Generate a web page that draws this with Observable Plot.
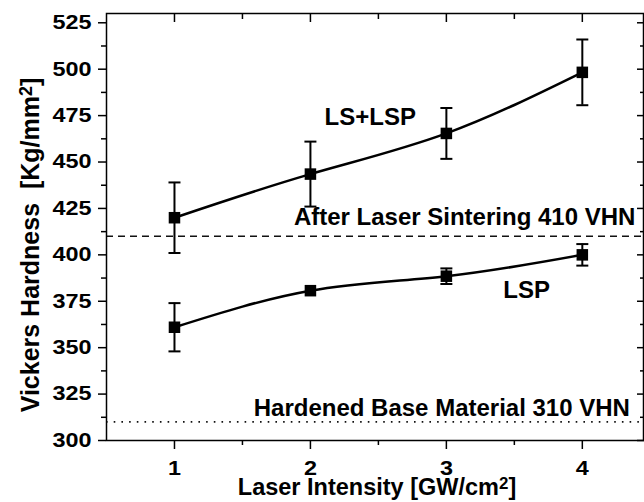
<!DOCTYPE html>
<html><head><meta charset="utf-8">
<script src="https://cdn.jsdelivr.net/npm/d3@7"></script>
<script src="https://cdn.jsdelivr.net/npm/@observablehq/plot@0.6"></script>
<style>
html,body{margin:0;padding:0;background:#fff;overflow:hidden}
</style></head><body><div id="chart"></div>
<script>
// ---- data ----
const intensity = [1, 2, 3, 4];
const lsLspHardness = [420, 443.5, 465.4, 498.3];
const lsLspError = [19, 17.5, 13.7, 17.7];
const lspHardness = [361, 380.7, 388.5, 400];
const lspError = [13, 0, 4.2, 5.8];
const xTicks = [1, 2, 3, 4];
const xMinorTicks = [1.5, 2.5, 3.5];
const yTicks = [300, 325, 350, 375, 400, 425, 450, 475, 500, 525];
const yMinorTicks = [312.5, 337.5, 362.5, 387.5, 412.5, 437.5, 462.5, 487.5, 512.5];
const sinteredLevel = 410;
const baseLevel = 310;
const xLabel = "Laser Intensity [GW/cm²]";
const yLabel = "Vickers Hardness  [Kg/mm²]";
const seriesLabels = ["LS+LSP", "LSP"];
const seriesLabelX = [2.44, 3.59];
const seriesLabelY = [474, 381];
const levelLabels = ["After Laser Sintering 410 VHN", "Hardened Base Material 310 VHN"];
const levelLabelX = [4.39, 4.35];
const levelLabelY = [420, 317.2];

// ---- tables built from the arrays ----
const series = [
  ...intensity.map((x, i) => ({x, y: lsLspHardness[i], e: lsLspError[i], s: "LS+LSP"})),
  ...intensity.map((x, i) => ({x, y: lspHardness[i], e: lspError[i], s: "LSP"}))
];
const errs = series.filter(d => d.e > 0);
const seriesAnn = seriesLabels.map((t, i) => ({t, x: seriesLabelX[i], y: seriesLabelY[i]}));
const levelAnn = levelLabels.map((t, i) => ({t, x: levelLabelX[i], y: levelLabelY[i]}));

const hline = {draw(ctx, size) { const r = Math.sqrt(size / Math.PI); ctx.moveTo(-r, 0); ctx.lineTo(r, 0); }};
const FONT = "'Liberation Sans', Arial, Helvetica, sans-serif";
const blank = () => "";
const plain = d => String(d);

const chart = Plot.plot({
  width: 644,
  height: 502,
  marginLeft: 106,
  marginRight: 1,
  marginTop: 13,
  marginBottom: 62,
  style: {fontFamily: FONT, fontWeight: "bold", fontSize: "20px", color: "#000", background: "#fff"},
  x: {domain: [0.5, 4.45]},
  y: {domain: [300, 530]},
  marks: [
    Plot.ruleY([sinteredLevel], {stroke: "#111", strokeWidth: 1.5, strokeDasharray: "7,5"}),
    Plot.ruleY([baseLevel], {stroke: "#111", strokeWidth: 1.8, strokeDasharray: "1.6,6.1"}),
    Plot.frame({stroke: "#000", strokeWidth: 1.5}),
    // left axis
    Plot.axisY(yTicks, {anchor: "left", tickSize: 8, tickPadding: 7, strokeWidth: 1.5, tickFormat: plain, label: null, fontSize: 20}),
    Plot.axisY(yMinorTicks, {anchor: "left", tickSize: 5, strokeWidth: 1.5, tickFormat: blank, label: null}),
    // right axis (inward)
    Plot.axisY(yTicks, {anchor: "right", tickSize: 7, dx: -7, strokeWidth: 1.5, tickFormat: blank, label: null}),
    Plot.axisY(yMinorTicks, {anchor: "right", tickSize: 4, dx: -4, strokeWidth: 1.5, tickFormat: blank, label: null}),
    // bottom axis
    Plot.axisX(xTicks, {anchor: "bottom", tickSize: 9, tickPadding: 11, strokeWidth: 1.5, tickFormat: plain, label: null, fontSize: 20}),
    Plot.axisX(xMinorTicks, {anchor: "bottom", tickSize: 5, strokeWidth: 1.5, tickFormat: blank, label: null}),
    // top axis (inward)
    Plot.axisX(xTicks, {anchor: "top", tickSize: 8, dy: 8, strokeWidth: 1.5, tickFormat: blank, label: null}),
    Plot.axisX(xMinorTicks, {anchor: "top", tickSize: 5, dy: 5, strokeWidth: 1.5, tickFormat: blank, label: null}),
    // curves
    Plot.line(series, {x: "x", y: "y", z: "s", curve: "natural", stroke: "#000", strokeWidth: 2.5}),
    // error bars
    Plot.ruleX(errs, {x: "x", y1: d => d.y - d.e, y2: d => d.y + d.e, stroke: "#000", strokeWidth: 2}),
    Plot.dot(errs, {x: "x", y: d => d.y - d.e, symbol: hline, r: 6, stroke: "#000", strokeWidth: 2, fill: "none"}),
    Plot.dot(errs, {x: "x", y: d => d.y + d.e, symbol: hline, r: 6, stroke: "#000", strokeWidth: 2, fill: "none"}),
    // markers
    Plot.dot(series, {x: "x", y: "y", symbol: "square", r: 6.5, fill: "#000", stroke: "none"}),
    // annotations
    Plot.text(seriesAnn, {x: "x", y: "y", text: "t", textAnchor: "middle", lineAnchor: "middle", fontSize: 24, fontWeight: "bold", fill: "#000"}),
    Plot.text(levelAnn, {x: "x", y: "y", text: "t", textAnchor: "end", lineAnchor: "middle", fontSize: 24, fontWeight: "bold", fill: "#000"}),
    // axis titles
    Plot.text([xLabel], {frameAnchor: "bottom", textAnchor: "middle", lineAnchor: "middle", dx: 2, dy: 46.5, fontSize: 23.5, fontWeight: "bold", fill: "#000"}),
    Plot.text([yLabel], {frameAnchor: "left", textAnchor: "middle", lineAnchor: "middle", dx: -76, dy: 18, rotate: -90, fontSize: 25, fontWeight: "bold", fill: "#000"})
  ]
});

document.getElementById("chart").appendChild(chart);

// render superscripts as real tspans
d3.select(chart).selectAll("text").each(function() {
  const el = d3.select(this);
  const t = this.textContent;
  if (t.includes("²") && this.children.length === 0) {
    const [a, b] = t.split("²");
    el.text(null);
    el.append("tspan").text(a);
    el.append("tspan").attr("baseline-shift", "38%").attr("font-size", "0.72em").text("2");
    el.append("tspan").text(b);
  }
});

// tick numerals in the reference are wider than Arial: widen them slightly
d3.select(chart).selectAll('g[aria-label$="tick label"] text').each(function() {
  const w = this.getComputedTextLength();
  if (w > 0) {
    this.setAttribute("textLength", (w * 1.17).toFixed(2));
    this.setAttribute("lengthAdjust", "spacingAndGlyphs");
  }
});
</script>
</body></html>
